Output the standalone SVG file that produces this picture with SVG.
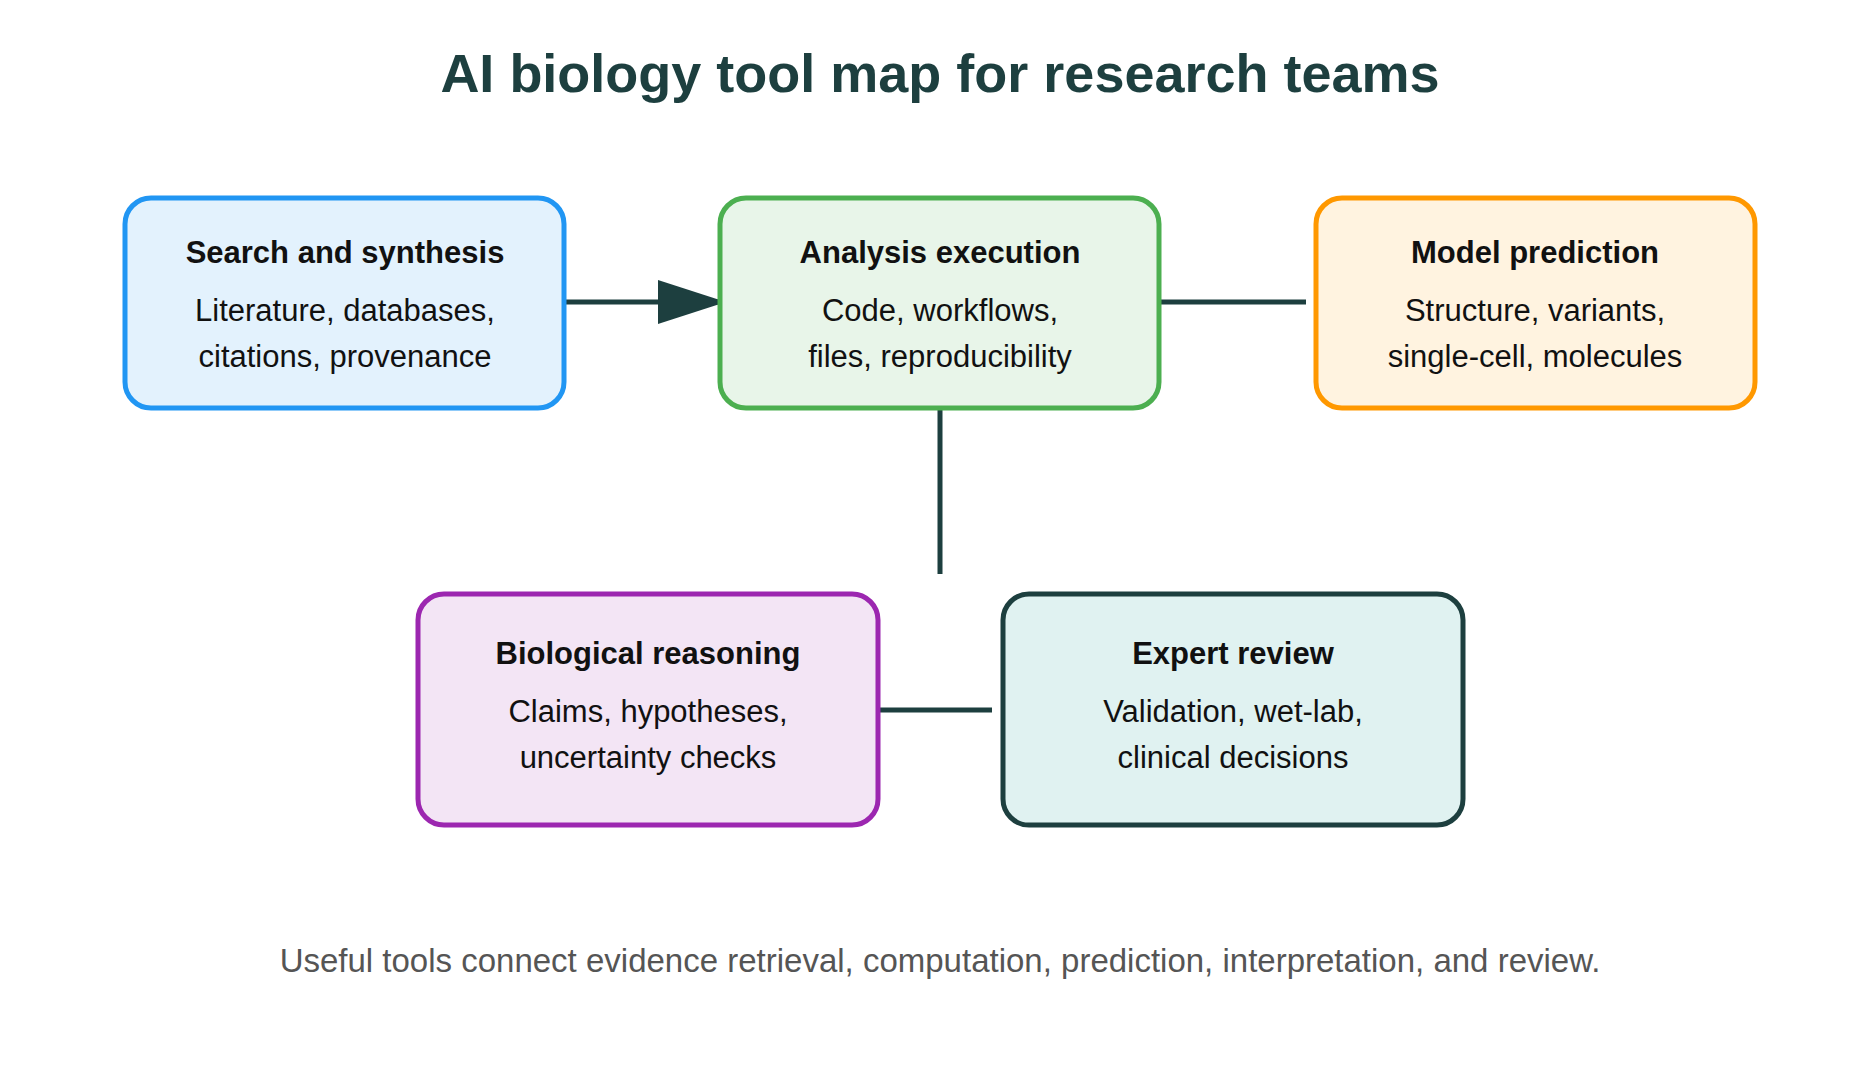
<svg xmlns="http://www.w3.org/2000/svg" width="1875" height="1083" viewBox="0 0 1875 1083">
<style>
text{font-family:"Liberation Sans",Arial,sans-serif;text-anchor:middle}
.t{font-size:31px;font-weight:bold;fill:#111}
.b{font-size:31px;fill:#111}
.n{stroke-width:5}
.c{stroke:#1d3f3f;stroke-width:5;fill:none}
</style>
<defs><marker id="ah" markerUnits="userSpaceOnUse" markerWidth="72" markerHeight="50" refX="68" refY="25" orient="auto"><path d="M0,3 L68,25 L0,47 Z" fill="#1d3f3f"/></marker></defs>
<rect width="1875" height="1083" fill="#fff"/>
<text x="940" y="92" style="font-size:54px;font-weight:bold;fill:#1d3f3f">AI biology tool map for research teams</text>
<g id="connectors">
<line class="c" x1="564" y1="302" x2="726" y2="302" marker-end="url(#ah)"/>
<line class="c" x1="1159" y1="302" x2="1306" y2="302"/>
<line class="c" x1="940" y1="408" x2="940" y2="574"/>
<line class="c" x1="878" y1="710" x2="992" y2="710"/>
</g>
<g id="search"><rect class="n" x="125" y="198" width="439" height="210" rx="26" fill="#e3f2fd" stroke="#2196f3"/>
<text class="t" x="345" y="263">Search and synthesis</text><text class="b" x="345" y="321">Literature, databases,</text><text class="b" x="345" y="367">citations, provenance</text></g>
<g id="analysis"><rect class="n" x="720" y="198" width="439" height="210" rx="26" fill="#e8f5e9" stroke="#4caf50"/>
<text class="t" x="940" y="263">Analysis execution</text><text class="b" x="940" y="321">Code, workflows,</text><text class="b" x="940" y="367">files, reproducibility</text></g>
<g id="model"><rect class="n" x="1316" y="198" width="439" height="210" rx="26" fill="#fff3e0" stroke="#ff9800"/>
<text class="t" x="1535" y="263">Model prediction</text><text class="b" x="1535" y="321">Structure, variants,</text><text class="b" x="1535" y="367">single-cell, molecules</text></g>
<g id="reasoning"><rect class="n" x="418" y="594" width="460" height="231" rx="26" fill="#f3e5f5" stroke="#9c27b0"/>
<text class="t" x="648" y="664">Biological reasoning</text><text class="b" x="648" y="722">Claims, hypotheses,</text><text class="b" x="648" y="768">uncertainty checks</text></g>
<g id="review"><rect class="n" x="1003" y="594" width="460" height="231" rx="26" fill="#e0f2f1" stroke="#1d3f3f"/>
<text class="t" x="1233" y="664">Expert review</text><text class="b" x="1233" y="722">Validation, wet-lab,</text><text class="b" x="1233" y="768">clinical decisions</text></g>
<text x="940" y="972" style="font-size:33px;fill:#555">Useful tools connect evidence retrieval, computation, prediction, interpretation, and review.</text>
</svg>
